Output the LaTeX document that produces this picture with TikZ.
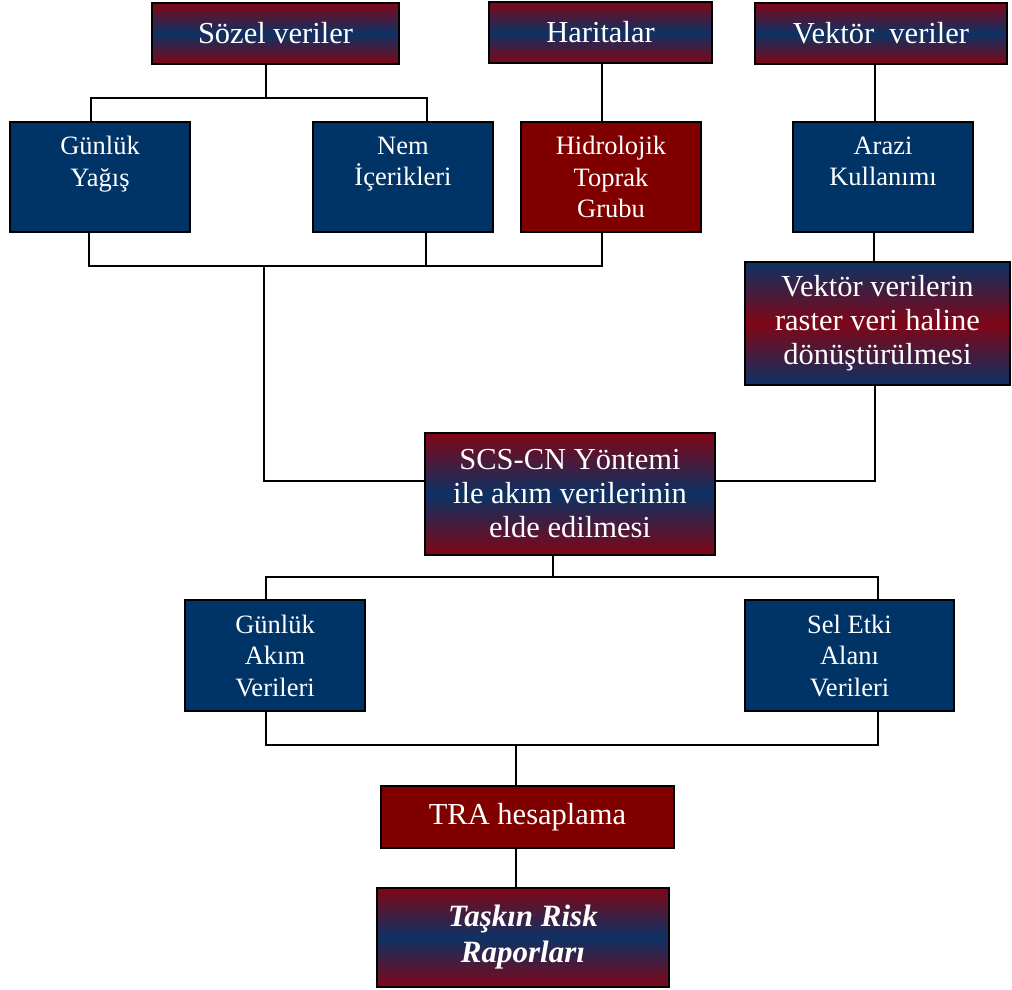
\documentclass[tikz,border=0pt]{standalone}
\usepackage{fontspec}
\setmainfont{Liberation Serif}
\definecolor{nblue}{RGB}{0,51,102}
\definecolor{nred}{RGB}{128,0,0}
\definecolor{gred}{RGB}{128,6,22}
\definecolor{gblue}{RGB}{12,50,100}
\tikzset{
  base/.style={draw=black, line width=1.5pt, text=white, align=center, inner sep=0pt},
  bigbox/.style={base, font=\fontsize{30.5}{34}\selectfont},
  smallbox/.style={base, font=\fontsize{26.5}{31.5}\selectfont},
  gradRB/.style={top color=gred, bottom color=gred, middle color=gblue},
  gradBR/.style={top color=gblue, bottom color=gblue, middle color=gred},
  conn/.style={line width=1.5pt, draw=black}
}
\begin{document}
\begin{tikzpicture}[x=1pt, y=-1pt]
\useasboundingbox (0,0) rectangle (1012,990);
% top row
\node[bigbox, gradRB, minimum width=247pt, minimum height=61pt] (sozel) at (275.5,33.5) {Sözel veriler};
\node[bigbox, gradRB, minimum width=223pt, minimum height=61pt] (harita) at (600.5,32.5) {Haritalar};
\node[bigbox, gradRB, minimum width=252pt, minimum height=61pt] (vektor) at (881,33.5) {Vektör\ \ veriler};
% second row
\node[smallbox, fill=nblue, minimum width=180pt, minimum height=110pt] (gyagis) at (100,177) {Günlük\\Yağış\\\mbox{}};
\node[smallbox, fill=nblue, minimum width=180pt, minimum height=110pt] (nem) at (403,177) {Nem\\İçerikleri\\\mbox{}};
\node[smallbox, fill=nred, minimum width=180pt, minimum height=110pt] (hidro) at (611,177) {Hidrolojik\\Toprak\\Grubu};
\node[smallbox, fill=nblue, minimum width=180pt, minimum height=110pt] (arazi) at (883,177) {Arazi\\Kullanımı\\\mbox{}};
% conversion
\node[bigbox, gradBR, minimum width=265pt, minimum height=123pt] (donus) at (877.5,323.5) {Vektör verilerin\\raster veri haline\\dönüştürülmesi};
% SCS
\node[bigbox, gradRB, line width=2.5pt, minimum width=290pt, minimum height=122pt] (scs) at (570,494) {SCS-CN Yöntemi\\ile akım verilerinin\\elde edilmesi};
% outputs
\node[smallbox, fill=nblue, minimum width=180pt, minimum height=111pt] (gakim) at (275,655.5) {Günlük\\Akım\\Verileri};
\node[smallbox, fill=nblue, minimum width=209pt, minimum height=111pt] (sel) at (849.5,655.5) {Sel Etki\\Alanı\\Verileri};
\node[bigbox, fill=nred, minimum width=293pt, minimum height=62pt] (tra) at (527.5,817) {TRA hesaplama};
\node[bigbox, gradRB, minimum width=292pt, minimum height=99pt, font=\fontsize{31}{36}\selectfont\bfseries\itshape] (taskin) at (523,937.5) {Taşkın Risk\\Raporları};
% junction coordinates
\coordinate (b0) at (266,98);
\coordinate (b1) at (91,98);
\coordinate (b2) at (427,98);
\coordinate (c0) at (264,266);
\coordinate (c1) at (89,266);
\coordinate (c2) at (426,266);
\coordinate (c3) at (602,266);
\coordinate (d1) at (264,481);
\coordinate (d2) at (875,481);
\coordinate (e1) at (874,0);
\coordinate (e2) at (875,0);
\coordinate (f0) at (553,577);
\coordinate (f1) at (266,577);
\coordinate (f2) at (878,577);
\coordinate (g0) at (516,745);
\coordinate (g1) at (266,745);
\coordinate (g2) at (878,745);
% connectors
\draw[conn] (sozel.south -| b0) -- (b0);
\draw[conn] (gyagis.north -| b1) -- (b1) -- (b2) -- (nem.north -| b2);
\draw[conn] (harita.south -| c3) -- (hidro.north -| c3);
\draw[conn] (vektor.south -| e2) -- (arazi.north -| e2);
\draw[conn] (arazi.south -| e1) -- (donus.north -| e1);
\draw[conn] (gyagis.south -| c1) -- (c1) -- (c3) -- (hidro.south -| c3);
\draw[conn] (nem.south -| c2) -- (c2);
\draw[conn] (c0) -- (d1) -- (scs.west |- d1);
\draw[conn] (donus.south -| d2) -- (d2) -- (scs.east |- d2);
\draw[conn] (scs.south -| f0) -- (f0);
\draw[conn] (gakim.north -| f1) -- (f1) -- (f2) -- (sel.north -| f2);
\draw[conn] (gakim.south -| g1) -- (g1) -- (g2) -- (sel.south -| g2);
\draw[conn] (g0) -- (tra.north -| g0);
\draw[conn] (tra.south -| g0) -- (taskin.north -| g0);
\end{tikzpicture}
\end{document}
